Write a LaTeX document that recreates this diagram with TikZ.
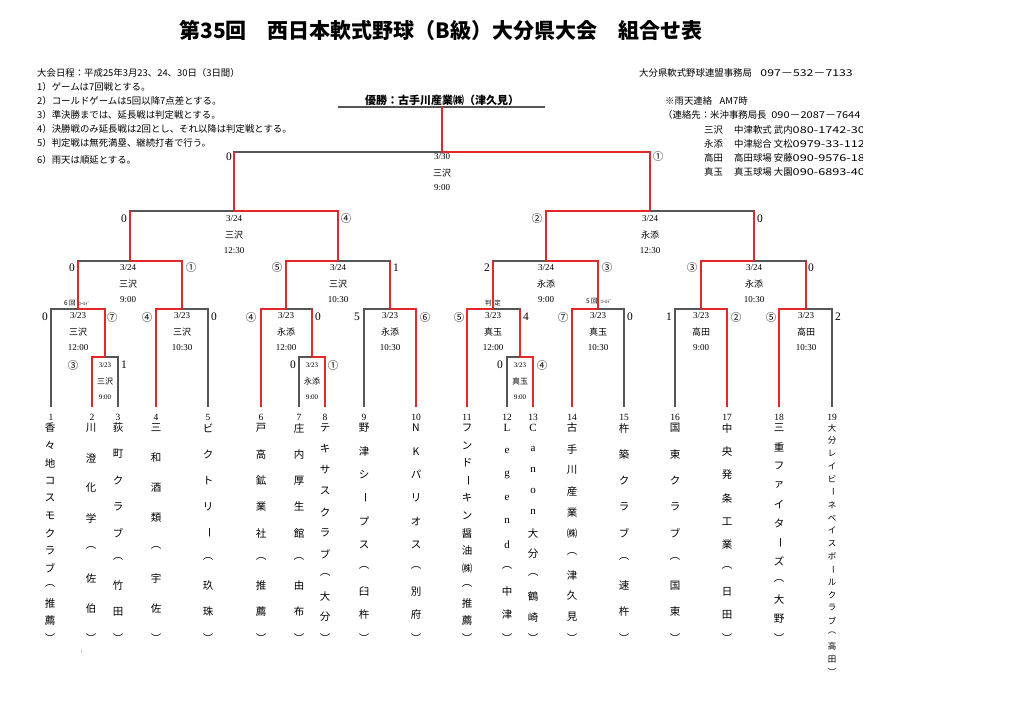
\documentclass[tikz,border=0pt]{standalone}
\usepackage{fontspec}
\usepackage{graphicx}
\setmainfont{Liberation Serif}
\newfontfamily\jp{Noto Sans CJK JP}
\definecolor{bred}{RGB}{226,40,40}
\definecolor{lgray}{RGB}{85,85,85}
\newcommand\vb{\rotatebox[origin=c]{-90}{ー}}
\newcommand\widedig[2][1.35]{\scalebox{#1}[1]{#2}}
% vertical team name: prefix, x, n, yend, style, list
\newcommand\vname[6]{%
  \foreach \c [count=\i from 0] in {#6}{%
    \node[#5] (#1-\i) at (#2,{428+\i*(#4-428)/(#3-1)}) {\c};
  }%
}
% match labels: name, x, ytop, date, place, time
\newcommand\mlab[6]{%
  \node[mtxt] (#1d) at (#2,{#3+7}) {#4};
  \node[mjp]  (#1p) at (#2,{#3+23}) {#5};
  \node[mtxt] (#1t) at (#2,{#3+39}) {#6};
}
\newcommand\slab[6]{%
  \node[stxt] (#1d) at (#2,{#3+8}) {#4};
  \node[sjp]  (#1p) at (#2,{#3+24}) {#5};
  \node[stxt] (#1t) at (#2,{#3+40}) {#6};
}
\begin{document}
\begin{tikzpicture}[x=1pt,y=-1pt,
  gl/.style={draw=lgray,line width=1.4pt},
  rl/.style={draw=bred,line width=1.8pt},
  info/.style={font=\jp\fontsize{9.4}{10}\selectfont, anchor=west, inner sep=0},
  rinfo/.style={font=\jp\fontsize{9.4}{10}\selectfont, anchor=west, inner sep=0},
  mtxt/.style={font=\fontsize{9}{10}\selectfont, inner sep=0},
  mjp/.style={font=\jp\fontsize{9}{10}\selectfont, inner sep=0},
  stxt/.style={font=\fontsize{7}{8}\selectfont, inner sep=0},
  sjp/.style={font=\jp\fontsize{8}{9}\selectfont, inner sep=0},
  score/.style={font=\fontsize{11.5}{12}\selectfont, inner sep=0},
  cscore/.style={font=\jp\fontsize{10.5}{11}\selectfont, inner sep=0},
  tnum/.style={font=\fontsize{9.5}{10}\selectfont, inner sep=0},
  nchar/.style={font=\jp\fontsize{10.5}{11}\selectfont, inner sep=0},
  lchar/.style={font=\fontsize{11}{11}\selectfont, inner sep=0},
  schar/.style={font=\jp\fontsize{8.5}{9}\selectfont, inner sep=0},
  note/.style={font=\jp\fontsize{6.5}{7}\selectfont, inner sep=0},
]
\useasboundingbox (0,0) rectangle (1024,724);

% title
\node[font=\jp\bfseries\fontsize{21}{24}\selectfont] (title) at (441,30)
  {第35回　西日本軟式野球（B級）大分県大会　組合せ表};

% left notes
\node[info] (n0) at (37,73)  {大会日程：平成25年3月23、24、30日（3日間）};
\node[info] (n1) at (37,87)  {1）ゲームは7回戦とする。};
\node[info] (n2) at (37,101) {2）コールドゲームは5回以降7点差とする。};
\node[info] (n3) at (37,115) {3）準決勝までは、延長戦は判定戦とする。};
\node[info] (n4) at (37,129) {4）決勝戦のみ延長戦は2回とし、それ以降は判定戦とする。};
\node[info] (n5) at (37,143) {5）判定戦は無死満塁、継続打者で行う。};
\node[info] (n6) at (37,160) {6）雨天は順延とする。};

% right notes
\node[rinfo] (r0) at (639,73)  {大分県軟式野球連盟事務局\hspace{0.9em}\widedig[1.3]{097－532－7133}};
\node[rinfo] (r1) at (665,101) {※雨天連絡\hspace{0.8em}AM7時};
\node[rinfo] (r2) at (663,115) {（連絡先：米沖事務局長\hspace{0.5em}\widedig[1.17]{090－2087－7644}};
\begin{scope}
\clip (690,120) rectangle (862,180);
\node[rinfo] (r3a) at (704,130) {三沢};
\node[rinfo] (r3b) at (734,130) {中津軟式\ 武内\widedig{080-1742-30}};
\node[rinfo] (r4a) at (704,144) {永添};
\node[rinfo] (r4b) at (734,144) {中津総合\ 文松\widedig{0979-33-112}};
\node[rinfo] (r5a) at (704,158) {高田};
\node[rinfo] (r5b) at (734,158) {高田球場\ 安藤\widedig{090-9576-18}};
\node[rinfo] (r6a) at (704,172) {真玉};
\node[rinfo] (r6b) at (734,172) {真玉球場\ 大園\widedig{090-6893-40}};
\end{scope}

% team bottoms
\foreach \n/\x in {1/51,2/92,3/118,4/156,5/208,6/261,7/299,8/325,9/364,10/416,
                   11/467,12/507,13/533,14/572,15/624,16/675,17/727,18/779,19/832}{
  \coordinate (t\n) at (\x,407);
  \node[tnum] (num\n) at (\x,417) {\n};
}

% match apexes
\coordinate (mB) at (105,357);
\coordinate (mA) at (78,309);
\coordinate (mC) at (182,309);
\coordinate (mE) at (312,357);
\coordinate (mD) at (286,309);
\coordinate (mF) at (390,309);
\coordinate (mH) at (520,357);
\coordinate (mG) at (493,309);
\coordinate (mI) at (598,309);
\coordinate (mJ) at (701,309);
\coordinate (mK) at (806,309);
\coordinate (mL) at (130,261);
\coordinate (mM) at (338,261);
\coordinate (mO) at (546,261);
\coordinate (mP) at (754,261);
\coordinate (mN) at (234,211);
\coordinate (mQ) at (650,211);
\coordinate (mZ) at (442,152);
\coordinate (W)  at (442,107);
\coordinate (u1) at (338,107);
\coordinate (u2) at (545,107);

% gray brackets
\draw[gl] (t2) |- (mB) -| (t3);
\draw[gl] (t1) |- (mA) -| (mB);
\draw[gl] (t4) |- (mC) -| (t5);
\draw[gl] (t7) |- (mE) -| (t8);
\draw[gl] (t6) |- (mD) -| (mE);
\draw[gl] (t9) |- (mF) -| (t10);
\draw[gl] (t12) |- (mH) -| (t13);
\draw[gl] (t11) |- (mG) -| (mH);
\draw[gl] (t14) |- (mI) -| (t15);
\draw[gl] (t16) |- (mJ) -| (t17);
\draw[gl] (t18) |- (mK) -| (t19);
\draw[gl] (mA) |- (mL) -| (mC);
\draw[gl] (mD) |- (mM) -| (mF);
\draw[gl] (mG) |- (mO) -| (mI);
\draw[gl] (mJ) |- (mP) -| (mK);
\draw[gl] (mL) |- (mN) -| (mM);
\draw[gl] (mO) |- (mQ) -| (mP);
\draw[gl] (mN) |- (mZ) -| (mQ);
\draw[gl] (u1) -- (u2);

% red winning paths
\draw[rl] (t2) |- (mB);
\draw[rl] (mB) |- (mA);
\draw[rl] (t4) |- (mC);
\draw[rl] (t8) |- (mE);
\draw[rl] (t6) |- (mD);
\draw[rl] (mE) -- (mE |- mD);
\draw[rl] (t10) |- (mF);
\draw[rl] (t13) |- (mH);
\draw[rl] (t11) |- (mG);
\draw[rl] (mH) -- (mH |- mG);
\draw[rl] (t14) |- (mI);
\draw[rl] (t17) |- (mJ);
\draw[rl] (t18) |- (mK);
\draw[rl] (mC) |- (mL);
\draw[rl] (mA) -- (mA |- mL);
\draw[rl] (mD) |- (mM);
\draw[rl] (mF) -- (mF |- mM);
\draw[rl] (mI) |- (mO);
\draw[rl] (mG) -- (mG |- mO);
\draw[rl] (mJ) |- (mP);
\draw[rl] (mK) -- (mK |- mP);
\draw[rl] (mM) |- (mN);
\draw[rl] (mL) -- (mL |- mN);
\draw[rl] (mO) |- (mQ);
\draw[rl] (mP) -- (mP |- mQ);
\draw[rl] (mQ) |- (mZ);
\draw[rl] (mN) -- (mN |- mZ);
\draw[rl] (mZ) -- (W);

% champion
\node[font=\jp\bfseries\fontsize{11}{12}\selectfont, inner sep=0] (champ) at (442,100)
  {優勝：古手川産業㈱（津久見）};

% match labels
\node[mtxt] (mZd) at (442,157) {3/30};
\node[mjp]  (mZp) at (442,173) {三沢};
\node[mtxt] (mZt) at (442,188) {9:00};
\mlab{mN}{234}{212}{3/24}{三沢}{12:30}
\mlab{mQ}{650}{212}{3/24}{永添}{12:30}
\mlab{mL}{128}{261}{3/24}{三沢}{9:00}
\mlab{mM}{338}{261}{3/24}{三沢}{10:30}
\mlab{mO}{546}{261}{3/24}{永添}{9:00}
\mlab{mP}{754}{261}{3/24}{永添}{10:30}
\mlab{mA}{78}{309}{3/23}{三沢}{12:00}
\mlab{mC}{182}{309}{3/23}{三沢}{10:30}
\mlab{mD}{286}{309}{3/23}{永添}{12:00}
\mlab{mF}{390}{309}{3/23}{永添}{10:30}
\mlab{mG}{493}{309}{3/23}{真玉}{12:00}
\mlab{mI}{598}{309}{3/23}{真玉}{10:30}
\mlab{mJ}{701}{309}{3/23}{高田}{9:00}
\mlab{mK}{806}{309}{3/23}{高田}{10:30}
\slab{mB}{105}{357}{3/23}{三沢}{9:00}
\slab{mE}{312}{357}{3/23}{永添}{9:00}
\slab{mH}{520}{357}{3/23}{真玉}{9:00}

% notes on games
\node[note] (c1) at (77,303) {6 回\ \ {\fontsize{4.5}{5}\selectfont ｺｰﾙﾄﾞ}};
\node[note] (c2) at (493,303) {判\ \ 定};
\node[note] (c3) at (599,301) {5 回\ \ {\fontsize{4.5}{5}\selectfont ｺｰﾙﾄﾞ}};

% scores
\node[score]  (sZl) at (229,157) {0};
\node[cscore] (sZr) at (658,157) {①};
\node[score]  (sNl) at (124,219) {0};
\node[cscore] (sNr) at (346,219) {④};
\node[cscore] (sQl) at (537,219) {②};
\node[score]  (sQr) at (760,219) {0};
\node[score]  (sLl) at (72,268) {0};
\node[cscore] (sLr) at (191,268) {①};
\node[cscore] (sMl) at (277,268) {⑤};
\node[score]  (sMr) at (396,268) {1};
\node[score]  (sOl) at (487,268) {2};
\node[cscore] (sOr) at (607,268) {③};
\node[cscore] (sPl) at (692,268) {③};
\node[score]  (sPr) at (811,268) {0};
\node[score]  (sAl) at (45,317) {0};
\node[cscore] (sAr) at (112,317) {⑦};
\node[cscore] (sCl) at (147,317) {④};
\node[score]  (sCr) at (214,317) {0};
\node[cscore] (sDl) at (251,317) {④};
\node[score]  (sDr) at (318,317) {0};
\node[score]  (sFl) at (357,317) {5};
\node[cscore] (sFr) at (425,317) {⑥};
\node[cscore] (sGl) at (459,317) {⑤};
\node[score]  (sGr) at (526,317) {4};
\node[cscore] (sIl) at (563,317) {⑦};
\node[score]  (sIr) at (630,317) {0};
\node[score]  (sJl) at (669,317) {1};
\node[cscore] (sJr) at (736,317) {②};
\node[cscore] (sKl) at (771,317) {⑤};
\node[score]  (sKr) at (838,317) {2};
\node[cscore] (sBl) at (73,365) {③};
\node[score]  (sBr) at (124,365) {1};
\node[score]  (sEl) at (293,365) {0};
\node[cscore] (sEr) at (333,365) {①};
\node[score]  (sHl) at (500,365) {0};
\node[cscore] (sHr) at (542,365) {④};

% team names (vertical)
\vname{a1}{50}{13}{638}{nchar}{香,々,地,コ,ス,モ,ク,ラ,ブ,︵,推,薦,︶}
\vname{a2}{91}{8}{638}{nchar}{川,澄,化,学,︵,佐,伯,︶}
\vname{a3}{118}{9}{638}{nchar}{荻,町,ク,ラ,ブ,︵,竹,田,︶}
\vname{a4}{156}{8}{638}{nchar}{三,和,酒,類,︵,宇,佐,︶}
\vname{a5}{208}{9}{638}{nchar}{ビ,ク,ト,リ,\vb,︵,玖,珠,︶}
\vname{a6}{261}{9}{638}{nchar}{戸,高,鉱,業,社,︵,推,薦,︶}
\vname{a7}{299}{9}{638}{nchar}{庄,内,厚,生,館,︵,由,布,︶}
\vname{a8}{325}{11}{638}{nchar}{テ,キ,サ,ス,ク,ラ,ブ,︵,大,分,︶}
\vname{a9}{364}{10}{638}{nchar}{野,津,シ,\vb,プ,ス,︵,臼,杵,︶}
\vname{a10}{416}{10}{638}{nchar}{N,K,パ,リ,オ,ス,︵,別,府,︶}
\vname{a11}{467}{13}{638}{nchar}{フ,ン,ド,\vb,キ,ン,醤,油,㈱,︵,推,薦,︶}
\vname{a12a}{507}{10}{638}{lchar}{L,e,g,e,n,d}
\vname{a12b}{507}{10}{638}{nchar}{,,,,,,︵,中,津,︶}
\vname{a13a}{533}{11}{638}{lchar}{C,a,n,o,n}
\vname{a13b}{533}{11}{638}{nchar}{,,,,,大,分,︵,鶴,崎,︶}
\vname{a14}{572}{11}{638}{nchar}{古,手,川,産,業,㈱,︵,津,久,見,︶}
\vname{a15}{624}{9}{638}{nchar}{杵,築,ク,ラ,ブ,︵,速,杵,︶}
\vname{a16}{675}{9}{638}{nchar}{国,東,ク,ラ,ブ,︵,国,東,︶}
\vname{a17}{727}{10}{638}{nchar}{中,央,発,条,工,業,︵,日,田,︶}
\vname{a18}{779}{12}{638}{nchar}{三,重,フ,ァ,イ,タ,\vb,ズ,︵,大,野,︶}
\vname{a19}{832}{20}{672}{schar}{大,分,レ,イ,ビ,\vb,ネ,ベ,イ,ス,ボ,\vb,ル,ク,ラ,ブ,︵,高,田,︶}

\node[font=\fontsize{4}{4}\selectfont, inner sep=0] (tick) at (82,652) {|};
\end{tikzpicture}
\end{document}
